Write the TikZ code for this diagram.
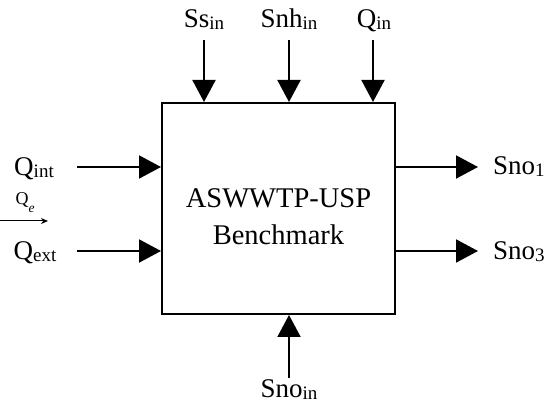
\documentclass[tikz,border=0pt]{standalone}
\usepackage{fontspec}
\setmainfont{Liberation Serif}
\usetikzlibrary{positioning, arrows.meta}
\newcommand{\lsub}[1]{\raisebox{-1.5pt}{\fontsize{19}{20}\selectfont #1}}

\begin{document}
\begin{tikzpicture}[x=1pt, y=1pt,
    blk/.style={draw, line width=2pt, minimum width=233pt, minimum height=211pt, align=center,
                font=\fontsize{28.5}{37}\selectfont, text height=73pt, text depth=0pt},
    arr/.style={-{Triangle[length=22pt, width=23pt]}, line width=2pt},
    sarr/.style={-{Stealth[length=7pt, width=6pt]}, line width=1pt},
    lbl/.style={font=\fontsize{27}{32}\selectfont, inner sep=0pt, anchor=base}]
    \useasboundingbox (0,0) rectangle (558,415);
    \node[blk] (bench) at (278.5,206.5) {ASWWTP-USP\\Benchmark};
    % inputs on top
    \coordinate (ssin-in) at (204,375);
    \coordinate (snhin-in) at (289,375);
    \coordinate (qin-in) at (373,375);
    \node[lbl] (ssin) at (204,387) {Ss\lsub{in}};
    \node[lbl] (snhin) at (289,387) {Snh\lsub{in}};
    \node[lbl] (qin) at (374,387) {Q\lsub{in}};
    \draw[arr] (ssin-in) -- (ssin-in |- bench.north);
    \draw[arr] (snhin-in) -- (snhin-in |- bench.north);
    \draw[arr] (qin-in) -- (qin-in |- bench.north);
    % inputs on the left
    \coordinate (qint-in) at (77,248);
    \coordinate (qext-in) at (77,164);
    \node[lbl] (qint) at (34,239) {Q\lsub{int}};
    \node[lbl] (qext) at (35,155) {Q\lsub{ext}};
    \draw[arr] (qint-in) -- (qint-in -| bench.west);
    \draw[arr] (qext-in) -- (qext-in -| bench.west);
    \coordinate (qe-a) at (0,194);
    \coordinate (qe-b) at (48,194);
    \node[lbl, font=\fontsize{18}{20}\selectfont] (qe) at (25,210) {Q\raisebox{-8pt}{\fontsize{13.5}{14}\selectfont\itshape e}};
    \draw[sarr] (qe-a) -- (qe-b);
    % outputs
    \coordinate (sno1-out) at (478,248);
    \coordinate (sno3-out) at (478,164);
    \node[lbl, anchor=base west] (sno1) at (493,240) {Sno\lsub{1}};
    \node[lbl, anchor=base west] (sno3) at (493,155) {Sno\lsub{3}};
    \draw[arr] (sno1-out -| bench.east) -- (sno1-out);
    \draw[arr] (sno3-out -| bench.east) -- (sno3-out);
    % input from below
    \coordinate (snoin-in) at (289,37);
    \node[lbl] (snoin) at (289,17) {Sno\lsub{in}};
    \draw[arr] (snoin-in) -- (snoin-in |- bench.south);
\end{tikzpicture}
\end{document}
